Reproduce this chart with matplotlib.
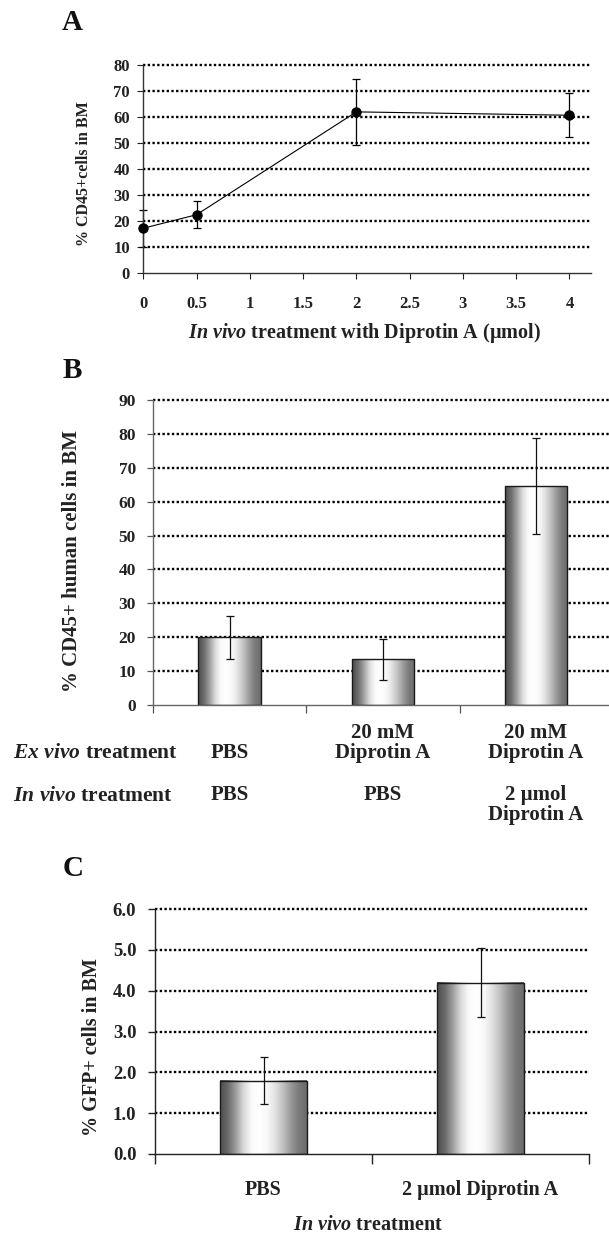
import numpy as np
import matplotlib
matplotlib.use("Agg")
import matplotlib.pyplot as plt

plt.rcParams['font.family'] = ['Liberation Serif', 'DejaVu Serif']
plt.rcParams['font.weight'] = 'bold'
plt.rcParams['mathtext.fontset'] = 'custom'
plt.rcParams['mathtext.it'] = 'Liberation Serif:italic'
plt.rcParams['mathtext.rm'] = 'Liberation Serif:bold'
plt.rcParams['mathtext.bf'] = 'Liberation Serif:bold'

MU = "\u00b5"

# ---------------- data ----------------
# Panel A
a_dose = [0, 0.5, 2, 4]
a_mean = [17.3, 22.5, 62.0, 60.7]
a_err = [7.2, 5.1, 12.6, 8.5]
a_xticks = [0, 0.5, 1, 1.5, 2, 2.5, 3, 3.5, 4]
a_yticks = [0, 10, 20, 30, 40, 50, 60, 70, 80]

# Panel B
b_ex_vivo = ["PBS", "20 mM\nDiprotin A", "20 mM\nDiprotin A"]
b_in_vivo = ["PBS", "PBS", "2 " + MU + "mol\nDiprotin A"]
b_mean = [20.0, 13.5, 64.6]
b_err = [6.3, 6.0, 14.1]
b_yticks = [0, 10, 20, 30, 40, 50, 60, 70, 80, 90]

# Panel C
c_labels = ["PBS", "2 " + MU + "mol Diprotin A"]
c_mean = [1.8, 4.2]
c_err = [0.58, 0.85]
c_yticks = [0.0, 1.0, 2.0, 3.0, 4.0, 5.0, 6.0]

# ---------------- figure ----------------
W, H = 609, 1234
fig = plt.figure(figsize=(W / 100, H / 100), dpi=100)


def ax_rect(left, right, top, bottom):
    return [left / W, 1 - bottom / H, (right - left) / W, (bottom - top) / H]


def fig_xy(px, py):
    return px / W, 1 - py / H


grid_kw = dict(color='black', linewidth=1.7, linestyle=(0, (1.0, 1.0)), clip_on=False)

grad_vals = np.array([0.30, 0.42, 0.62, 0.85, 0.98, 1.0, 0.97, 0.88, 0.75, 0.60, 0.48, 0.42])
grad_cmap = plt.get_cmap('gray')


def gradient_bars(ax, xs, heights, width):
    bars = ax.bar(xs, heights, width=width, fill=False, edgecolor='#1a1a1a',
                  linewidth=1.0, zorder=3)
    xi = np.linspace(0, 1, 200)
    prof = np.interp(xi, np.linspace(0, 1, len(grad_vals)), grad_vals)
    img = prof[np.newaxis, :]
    for b in bars:
        x0 = b.get_x()
        ax.imshow(img, extent=[x0, x0 + b.get_width(), 0, b.get_height()],
                  aspect='auto', cmap=grad_cmap, vmin=0, vmax=1,
                  interpolation='bilinear', zorder=2)
    return bars


def style_spines(ax, color):
    for s in ['top', 'right']:
        ax.spines[s].set_visible(False)
    for s in ['left', 'bottom']:
        ax.spines[s].set_color(color)
        ax.spines[s].set_linewidth(1.0)
        ax.spines[s].set_zorder(4)


TXT = '#222222'

# ---------------- Panel A ----------------
axA = fig.add_axes(ax_rect(143.3, 590.7, 65, 273.3))
for v in a_yticks[1:]:
    axA.axhline(v, zorder=0.5, **grid_kw)
axA.plot(a_dose, a_mean, color='black', linewidth=0.8, zorder=3)
axA.errorbar(a_dose, a_mean, yerr=a_err, fmt='o', color='black', markersize=6.5,
             ecolor='black', elinewidth=0.9, capsize=3.2, capthick=0.9, zorder=4,
             clip_on=False)
axA.set_xlim(0, 4.2)
axA.set_ylim(0, 80)
axA.set_xticks(a_xticks)
axA.set_xticklabels([f"{v:g}" for v in a_xticks])
axA.set_yticks(a_yticks)
axA.tick_params(axis='x', direction='out', length=4, width=0.8, pad=12,
                labelsize=12, colors=TXT)
axA.tick_params(axis='y', direction='out', length=4, width=0.8, pad=5.5,
                labelsize=12, colors=TXT)
style_spines(axA, '#333333')
for lab in axA.get_xticklabels() + axA.get_yticklabels():
    lab.set_fontweight('bold')
fig.text(*fig_xy(364, 333), r"$\mathit{In\ vivo}$ treatment with Diprotin A (" + MU + "mol)",
         ha='center', va='center', fontsize=14.5, fontweight='bold', color=TXT)
fig.text(*fig_xy(83.5, 173.5), "% CD45+cells in BM", rotation=90, ha='center',
         va='center', fontsize=11.5, fontweight='bold', color=TXT)
fig.text(*fig_xy(72, 22), "A", ha='center', va='center', fontsize=21,
         fontweight='bold', color='#111111')

# ---------------- Panel B ----------------
axB = fig.add_axes(ax_rect(153.3, 612.6, 400, 705))
for v in b_yticks[1:]:
    axB.axhline(v, zorder=0.5, **grid_kw)
b_x = np.arange(len(b_mean)) + 0.5
gradient_bars(axB, b_x, b_mean, 0.41)
axB.errorbar(b_x, b_mean, yerr=b_err, fmt='none', ecolor='#111111',
             elinewidth=0.9, capsize=2.6, capthick=0.9, zorder=5)
axB.set_xlim(0, 3)
axB.set_ylim(0, 90)
axB.set_xticks([0, 1, 2, 3])
axB.set_xticklabels([])
axB.set_yticks(b_yticks)
axB.tick_params(axis='x', direction='out', length=6, width=0.9, colors='#555555')
axB.tick_params(axis='y', direction='out', length=4, width=0.9, pad=8.5,
                labelsize=12.5, colors='#555555', labelcolor=TXT)
style_spines(axB, '#666666')
for lab in axB.get_yticklabels():
    lab.set_fontweight('bold')
fig.text(*fig_xy(72, 561.5), "% CD45+ human cells in BM", rotation=90, ha='center',
         va='center', fontsize=15, fontweight='bold', color=TXT)
fig.text(*fig_xy(72, 370), "B", ha='center', va='center', fontsize=21,
         fontweight='bold', color='#111111')

# table of treatments
trans_B = matplotlib.transforms.blended_transform_factory(axB.transData, fig.transFigure)
for xv, ex, inv in zip(b_x, b_ex_vivo, b_in_vivo):
    axB.text(xv, 1 - 758 / H, ex, transform=trans_B, ha='center', va='baseline',
             fontsize=15, fontweight='bold', color=TXT, linespacing=1.0,
             multialignment='center')
    axB.text(xv, 1 - 785 / H, inv, transform=trans_B, ha='center', va='top',
             fontsize=15, fontweight='bold', color=TXT, linespacing=1.0,
             multialignment='center')
fig.text(12.7 / W, 1 - 758 / H, r"$\mathit{Ex\ vivo}$ treatment", ha='left',
         va='baseline', fontsize=15.5, fontweight='bold', color=TXT)
fig.text(12.7 / W, 1 - 801 / H, r"$\mathit{In\ vivo}$ treatment", ha='left',
         va='baseline', fontsize=15.5, fontweight='bold', color=TXT)

# ---------------- Panel C ----------------
axC = fig.add_axes(ax_rect(155, 589, 909, 1154))
for v in c_yticks[1:]:
    axC.axhline(v, zorder=0.5, **grid_kw)
c_x = np.arange(len(c_mean)) + 0.5
gradient_bars(axC, c_x, c_mean, 0.40)
axC.errorbar(c_x, c_mean, yerr=c_err, fmt='none', ecolor='#111111',
             elinewidth=0.9, capsize=2.6, capthick=0.9, zorder=5)
axC.set_xlim(0, 2)
axC.set_ylim(0, 6)
axC.set_xticks([0, 1, 2])
axC.set_xticklabels([])
axC.set_xticks(c_x, minor=True)
axC.set_xticklabels(c_labels, minor=True)
axC.set_yticks(c_yticks)
axC.set_yticklabels([f"{v:.1f}" for v in c_yticks])
axC.tick_params(axis='x', which='major', direction='out', length=7, width=1.0,
                colors=TXT)
axC.tick_params(axis='x', which='minor', length=0, pad=19, labelsize=14.5,
                labelcolor=TXT)
axC.tick_params(axis='y', direction='out', length=5, width=1.0, pad=8.5,
                labelsize=13.5, colors=TXT)
style_spines(axC, '#222222')
for lab in axC.get_yticklabels() + axC.get_xticklabels(minor=True):
    lab.set_fontweight('bold')
fig.text(*fig_xy(368, 1225), r"$\mathit{In\ vivo}$ treatment", ha='center',
         va='center', fontsize=14.5, fontweight='bold', color=TXT)
fig.text(*fig_xy(92, 1047), "% GFP+ cells in BM", rotation=90, ha='center',
         va='center', fontsize=14.5, fontweight='bold', color=TXT)
fig.text(*fig_xy(72.7, 868), "C", ha='center', va='center', fontsize=21,
         fontweight='bold', color='#111111')

fig.savefig("out.png", dpi=100)
